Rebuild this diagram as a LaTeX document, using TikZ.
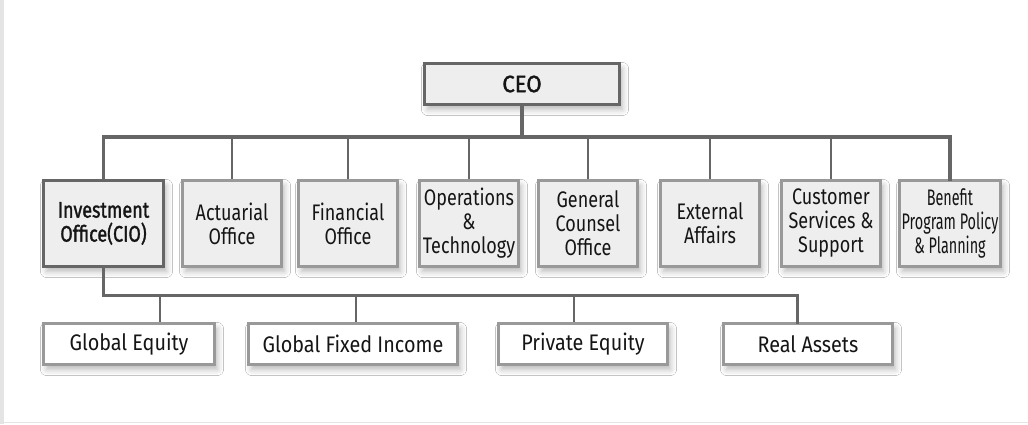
\documentclass[tikz,border=0pt]{standalone}
\usepackage{fontspec}
\setmainfont{Fira Sans}[FakeStretch=0.88]
\newfontfamily\unitface{Fira Sans}[FakeStretch=0.80]
\newfontfamily\heavyface{Fira Sans}[FakeStretch=0.80, FakeBold=1.4]
\newfontfamily\titleface{Fira Sans}[FakeStretch=0.94, FakeBold=1.4]
\newfontfamily\narrowface{Fira Sans}[FakeStretch=0.64]
\usetikzlibrary{shadows.blur, calc}

\definecolor{linegrey}{HTML}{666666}
\definecolor{boxgrey}{HTML}{999999}
\definecolor{boxfill}{HTML}{EEEEEE}
\definecolor{textdark}{HTML}{151515}
\definecolor{frame}{HTML}{E4E4E4}

\tikzset{
  x=1pt, y=-1pt,
  softshadow/.style={blur shadow={shadow xshift=3pt, shadow yshift=-5pt,
      shadow blur radius=6pt, shadow opacity=28}},
  unitbox/.style={draw=boxgrey, line width=3pt, fill=boxfill, inner sep=0pt,
      align=center, text=textdark, minimum width=99pt, minimum height=86pt,
      font=\unitface\fontsize{22.5}{24}\selectfont, softshadow},
  headbox/.style={unitbox, draw=linegrey, font=\heavyface\fontsize{22.5}{24}\selectfont},
  teambox/.style={draw=boxgrey, line width=3pt, fill=white, inner sep=0pt,
      text=textdark, minimum height=41pt, font=\fontsize{22.5}{24}\selectfont, softshadow},
  bus/.style={draw=linegrey, line width=3.5pt, line join=miter, line cap=rect},
  stem/.style={draw=linegrey, line width=2.6pt},
}

\begin{document}
\begin{tikzpicture}
  % page frame: white sheet, grey rule on the left and along the bottom
  \fill[white] (0,0) rectangle (1028,424);
  \fill[frame] (0,0) rectangle (4,424);
  \fill[frame] (0,421.5) rectangle (1028,423);
  \useasboundingbox (0,0) rectangle (1028,424);

  % top of the chart
  \node[headbox, minimum width=195pt, minimum height=41pt,
        font=\titleface\fontsize{23.5}{24}\selectfont] (ceo) at (522,84) {CEO};

  % reporting units
  \node[headbox, minimum width=120pt] (inv) at (103.5,223.5) {Investment\\Office(CIO)};
  \node[unitbox] (act) at (232,223.5) {Actuarial\\Office};
  \node[unitbox] (fin) at (348,223.5) {Financial\\Office};
  \node[unitbox] (ops) at (469,223.5) {Operations\\\&\\Technology};
  \node[unitbox] (gco) at (588,223.5) {General\\Counsel\\Office};
  \node[unitbox] (ext) at (710,223.5) {External\\Affairs};
  \node[unitbox] (cus) at (831,223.5) {Customer\\Services \&\\Support};
  \node[unitbox, minimum width=101pt, font=\narrowface\fontsize{22.5}{24}\selectfont]
       (ben) at (950,223.5) {Benefit\\Program Policy\\\& Planning};

  % investment teams
  \node[teambox, minimum width=171pt] (geq) at (129,344) {Global Equity};
  \node[teambox, minimum width=209pt] (gfi) at (353,344) {Global Fixed Income};
  \node[teambox, minimum width=169pt] (peq) at (583,344) {Private Equity};
  \node[teambox, minimum width=169pt] (rea) at (808,344) {Real Assets};

  % bus levels
  \coordinate (busA) at (0,137);
  \coordinate (busB) at (0,295);

  % attachment points on the team boxes
  \coordinate (geqT) at ($(geq.north west)!0.68!(geq.north east)$);
  \coordinate (gfiT) at ($(gfi.north west)!0.515!(gfi.north east)$);
  \coordinate (peqT) at ($(peq.north west)!0.448!(peq.north east)$);
  \coordinate (reaT) at ($(rea.north west)!0.436!(rea.north east)$);

  % CEO to units
  \draw[bus] (ceo.south) -- (ceo.south |- busA);
  \draw[bus] (inv.north) -- (inv.north |- busA) -- (ben.north |- busA) -- (ben.north);
  \foreach \u in {act,fin,ops,gco,ext,cus}
    \draw[stem] (\u.north |- busA) -- (\u.north);

  % investment office to teams
  \draw[bus, line width=3pt] (inv.south) -- (inv.south |- busB) -- (reaT |- busB) -- (reaT);
  \foreach \t in {geqT,gfiT,peqT}
    \draw[stem, line width=2.2pt] (\t |- busB) -- (\t);
\end{tikzpicture}
\end{document}
